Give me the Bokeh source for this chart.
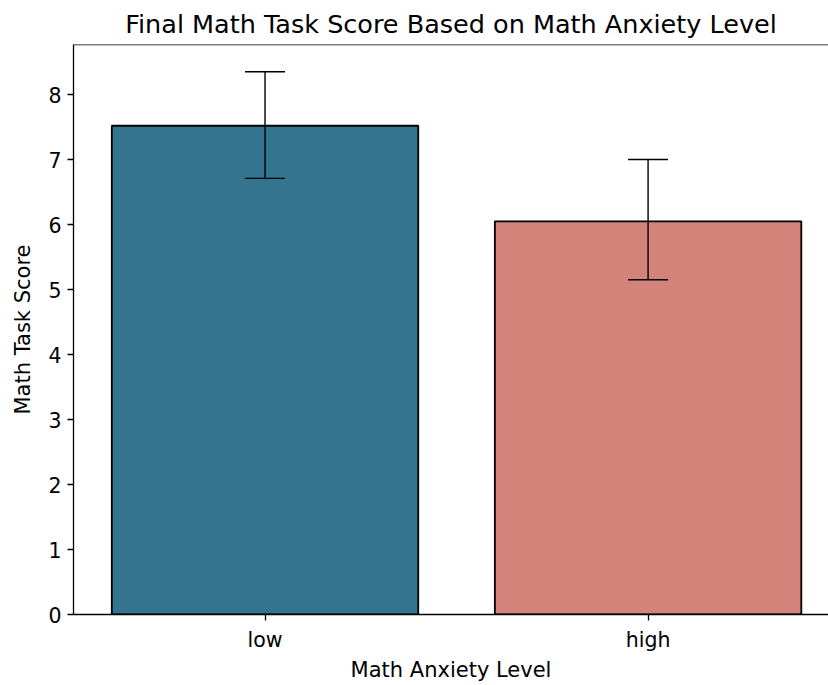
from bokeh.plotting import figure
from bokeh.models import Range1d, FixedTicker, Whisker, ColumnDataSource, TeeHead, Span
from bokeh.embed import file_html
from bokeh.resources import INLINE

categories = ["low", "high"]
scores = [7.52, 6.05]
err_upper = [8.35, 7.00]
err_lower = [6.71, 5.15]
colors = ["#35748F", "#D3837A"]

xs = list(range(len(categories)))
src = ColumnDataSource(dict(x=xs, top=scores, upper=err_upper, lower=err_lower, color=colors))

FONT = "DejaVu Sans"
Y_END = 8.77
p = figure(width=828, height=685, output_backend="svg", toolbar_location=None,
           x_range=Range1d(-0.5, 1.471), y_range=Range1d(0, Y_END),
           min_border_left=73, min_border_right=0, min_border_top=44, min_border_bottom=71,
           title="Final Math Task Score Based on Math Anxiety Level")
p.title.text_font = FONT
p.title.text_font_size = "25.5px"
p.title.text_font_style = "normal"
p.title.align = "center"
p.title.text_color = "#000000"
p.title.standoff = 11

p.vbar(x="x", top="top", width=0.8, bottom=0, fill_color="color", line_color="black",
       line_width=1.8, source=src)
w = Whisker(base="x", upper="upper", lower="lower", source=src, line_color="black", line_width=1.4,
            upper_head=TeeHead(size=40, line_color="black", line_width=1.4),
            lower_head=TeeHead(size=40, line_color="black", line_width=1.4),
            level="overlay")
p.add_layout(w)

p.grid.visible = False
p.outline_line_color = None
p.add_layout(Span(location=Y_END, dimension="width", line_color="black", line_width=1.3))

p.xaxis.ticker = FixedTicker(ticks=xs)
p.xaxis.major_label_overrides = {i: c for i, c in enumerate(categories)}
p.yaxis.ticker = FixedTicker(ticks=list(range(0, 9)))
for ax in (p.xaxis, p.yaxis):
    ax.major_tick_out = 6
    ax.major_tick_in = 0
    ax.minor_tick_line_color = None
    ax.axis_line_color = "black"
    ax.axis_line_width = 1.3
    ax.major_tick_line_color = "black"
    ax.major_tick_line_width = 1.3
    ax.major_label_text_font = FONT
    ax.major_label_text_font_size = "20.5px"
    ax.major_label_text_color = "black"
    ax.axis_label_text_font = FONT
    ax.axis_label_text_font_size = "21px"
    ax.axis_label_text_font_style = "normal"
    ax.axis_label_text_color = "black"
p.xaxis.axis_label = "Math Anxiety Level"
p.yaxis.axis_label = "Math Task Score"
p.yaxis.major_label_orientation = "horizontal"
p.xaxis.major_label_standoff = 7
p.xaxis.axis_label_standoff = 3
p.yaxis.major_label_standoff = 6
p.yaxis.axis_label_standoff = 10

open("out.html", "w").write(file_html(p, INLINE))
